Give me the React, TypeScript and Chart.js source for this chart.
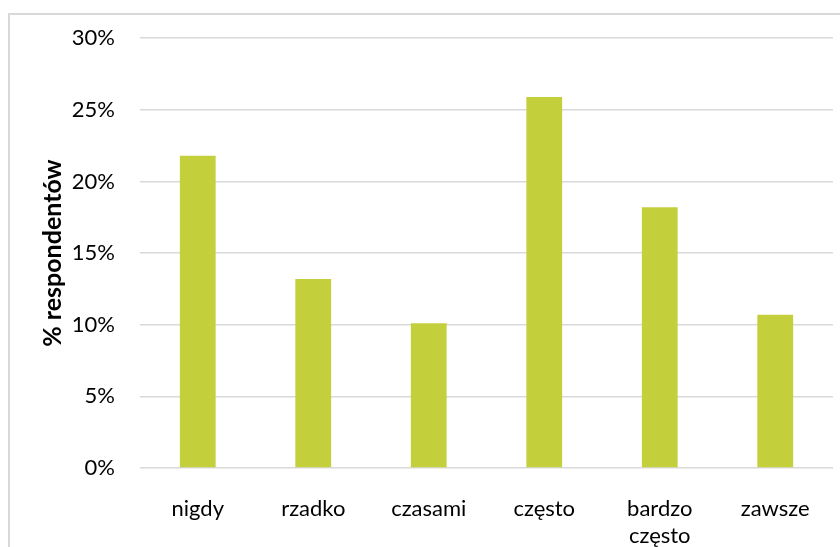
import React, { useEffect, useRef } from "react";
import { Chart, registerables } from "chart.js";

Chart.register(...registerables);

const categories: (string | string[])[] = ["nigdy", "rzadko", "czasami", "często", ["bardzo", "często"], "zawsze"];
const shares: number[] = [21.8, 13.2, 10.1, 25.9, 18.2, 10.7];
const yTicks: number[] = [0, 5, 10, 15, 20, 25, 30];

const BAR_COLOR = "#c3cf3b";
const GRID_COLOR = "#d9d9d9";
const FONT = "Lato, 'Open Sans', sans-serif";

export default function App() {
  const canvasRef = useRef<HTMLCanvasElement | null>(null);

  useEffect(() => {
    if (!canvasRef.current) return;
    const chart = new Chart(canvasRef.current, {
      type: "bar",
      data: {
        labels: categories,
        datasets: [
          {
            data: shares,
            backgroundColor: BAR_COLOR,
            borderWidth: 0,
            categoryPercentage: 1,
            barPercentage: 0.31,
          },
        ],
      },
      options: {
        animation: false,
        responsive: false,
        maintainAspectRatio: false,
        layout: { padding: { top: 38, right: 7, bottom: 0, left: 0 } },
        plugins: { legend: { display: false }, tooltip: { enabled: false } },
        scales: {
          x: {
            grid: { display: false },
            border: { display: false },
            ticks: {
              color: "#000",
              padding: 19,
              maxRotation: 0,
              autoSkip: false,
              font: { family: FONT, size: 22, lineHeight: 1.25 },
            },
            afterFit: (scale: any) => {
              scale.height = 79;
            },
          },
          y: {
            min: 0,
            max: 30,
            afterBuildTicks: (scale: any) => {
              scale.ticks = yTicks.map((v) => ({ value: v }));
            },
            grid: { color: GRID_COLOR, lineWidth: 1.6, drawTicks: false },
            border: { display: false },
            ticks: {
              color: "#000",
              padding: 25,
              font: { family: FONT, size: 22 },
              callback: (v: any) => `${v}%`,
            },
            title: {
              display: true,
              text: "% respondentów",
              color: "#000",
              padding: { top: 38, bottom: 0 },
              font: { family: FONT, size: 25, weight: "bold", lineHeight: 1.2 },
            },
            afterFit: (scale: any) => {
              scale.width = 140;
            },
          },
        },
      },
    });
    return () => chart.destroy();
  }, []);

  return (
    <div style={{ position: "absolute", left: 0, top: 0, width: 840, height: 547, background: "#fff", overflow: "hidden" }}>
      <div
        style={{
          position: "absolute",
          left: 8,
          top: 13,
          width: 900,
          height: 600,
          borderTop: `2px solid ${GRID_COLOR}`,
          borderLeft: `2px solid ${GRID_COLOR}`,
        }}
      />
      <canvas ref={canvasRef} width={840} height={547} style={{ position: "absolute", left: 0, top: 0 }} />
    </div>
  );
}
